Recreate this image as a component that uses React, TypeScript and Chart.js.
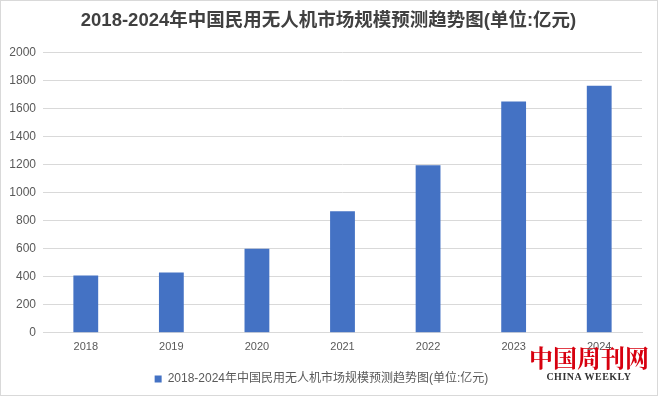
import React, { useEffect, useRef } from "react";
import { Chart, registerables } from "chart.js";

Chart.register(...registerables);

const categories = ["2018", "2019", "2020", "2021", "2022", "2023", "2024"];
const seriesName = "2018-2024年中国民用无人机市场规模预测趋势图(单位:亿元)";
const seriesValues = [408, 430, 599, 868, 1195, 1650, 1762];
const titleText = "2018-2024年中国民用无人机市场规模预测趋势图(单位:亿元)";

const titlePlugin = {
  id: "centeredTitle",
  afterDraw(chart: any) {
    const ctx = chart.ctx;
    ctx.save();
    ctx.font = "bold 18.5px 'Liberation Sans', 'Noto Sans CJK SC', sans-serif";
    ctx.fillStyle = "#404040";
    ctx.textAlign = "center";
    ctx.textBaseline = "middle";
    ctx.fillText(titleText, 327.5, 20);
    ctx.restore();
  },
};

export default function App() {
  const ref = useRef<HTMLCanvasElement | null>(null);
  useEffect(() => {
    document.body.style.margin = "0";
    const ctx = ref.current!;
    const chart = new Chart(ctx, {
      type: "bar",
      data: {
        labels: categories,
        datasets: [
          {
            label: seriesName,
            data: seriesValues,
            backgroundColor: "#4472c4",
            barPercentage: 0.29,
            categoryPercentage: 1,
          },
        ],
      },
      plugins: [titlePlugin],
      options: {
        responsive: false,
        animation: false,
        layout: { padding: { left: 0, right: 15, top: 51.5, bottom: 0 } },
        plugins: {
          title: { display: false },
          legend: {
            position: "bottom",
            labels: {
              boxWidth: 7,
              boxHeight: 7,
              color: "#595959",
              font: { family: "'Liberation Sans', 'Noto Sans CJK SC', sans-serif", size: 12 },
              padding: 19,
            },
          },
          tooltip: { enabled: false },
        },
        scales: {
          x: {
            grid: { display: false },
            border: { color: "#d9d9d9" },
            ticks: {
              color: "#595959",
              padding: 0,
              font: { family: "'Liberation Sans', sans-serif", size: 11 },
            },
          },
          y: {
            min: 0,
            max: 2000,
            afterFit: (scale: any) => {
              scale.width = 42;
            },
            ticks: {
              stepSize: 200,
              color: "#595959",
              padding: 7,
              font: { family: "'Liberation Sans', sans-serif", size: 12 },
              callback: (v: any) => String(v),
            },
            grid: { color: "#d9d9d9", drawTicks: false },
            border: { display: false },
          },
        },
      },
    });
    return () => chart.destroy();
  }, []);

  return (
    <div
      style={{
        position: "relative",
        width: 658,
        height: 396,
        boxSizing: "border-box",
        border: "1px solid #d9d9d9",
        background: "#fff",
      }}
    >
      <canvas ref={ref} width={656} height={394} />
      <div
        style={{
          position: "absolute",
          left: 526,
          top: 342,
          width: 124,
          textAlign: "center",
          pointerEvents: "none",
        }}
      >
        <div
          style={{
            color: "#d7000f",
            fontFamily: "'Noto Serif CJK SC', 'Noto Sans CJK SC', serif",
            fontWeight: "bold",
            fontSize: 24,
            lineHeight: "28px",
            letterSpacing: 0,
          }}
        >
          中国周刊网
        </div>
        <div
          style={{
            color: "#333",
            fontFamily: "'Liberation Serif', serif",
            fontWeight: "bold",
            fontSize: 10,
            lineHeight: "12px",
            letterSpacing: 0.5,
          }}
        >
          CHINA WEEKLY
        </div>
      </div>
    </div>
  );
}
